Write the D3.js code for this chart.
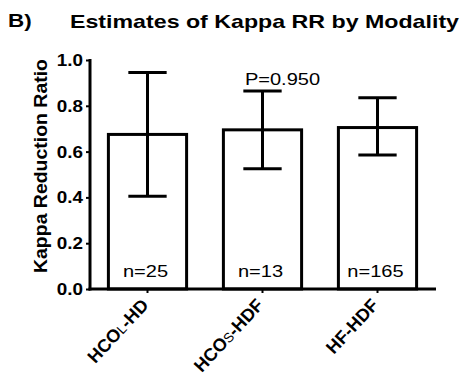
<!DOCTYPE html>
<html><head><meta charset="utf-8">
<script src="https://cdn.jsdelivr.net/npm/d3@7"></script>
<style>
html,body{margin:0;padding:0;background:#fff;}
svg{display:block;font-family:"Liberation Sans",Arial,sans-serif;}
</style></head>
<body>
<svg id="chart" width="464" height="381"></svg>
<script>
const categories = ["HCOL-HD", "HCOS-HDF", "HF-HDF"];
const labelMain = ["HCO", "HCO", "HF-HDF"];
const labelSub = ["L", "S", ""];
const labelRest = ["-HD", "-HDF", ""];
const means = [0.675, 0.695, 0.705];
const lower = [0.405, 0.525, 0.585];
const upper = [0.945, 0.865, 0.835];
const nLabels = ["n=25", "n=13", "n=165"];
const yTicks = [0.0, 0.2, 0.4, 0.6, 0.8, 1.0];
const pLabel = "P=0.950";
const title = "Estimates of Kappa RR by Modality";
const panel = "B)";
const yTitle = "Kappa Reduction Ratio";

const svg = d3.select("#chart");
const sx = 1.18;
const x = d3.scaleBand().domain(categories).range([90, 435]).paddingInner(0.32).paddingOuter(0.16);
const y = d3.scaleLinear().domain([0, 1]).range([289, 60]);

// horizontally stretched text helper
function stext(g, tx, ty, str, size, weight, anchor, rot) {
  const gg = g.append("g").attr("transform", `translate(${tx},${ty}) rotate(${rot||0}) scale(${sx},1)`);
  return gg.append("text").attr("font-size", size).attr("font-weight", weight)
    .attr("text-anchor", anchor).attr("fill", "#000").text(str);
}

stext(svg, 8, 27, panel, 19, "bold", "start");
svg.append("text").attr("x", 70).attr("y", 28).attr("font-size", 19).attr("font-weight", "bold")
  .attr("textLength", 389).attr("lengthAdjust", "spacingAndGlyphs").text(title);

// y axis title
svg.append("g").attr("transform", "translate(47,166) rotate(-90)")
  .append("text").attr("text-anchor", "middle").attr("font-size", 17.5).attr("font-weight", "bold")
  .attr("textLength", 214).attr("lengthAdjust", "spacingAndGlyphs").text(yTitle);

// bars
svg.selectAll("rect.bar").data(categories).join("rect")
  .attr("x", d => x(d)).attr("width", x.bandwidth())
  .attr("y", (d,i) => y(means[i])).attr("height", (d,i) => y(0) - y(means[i]))
  .attr("fill", "#fff").attr("stroke", "#000").attr("stroke-width", 3);

// error bars
const capW = x.bandwidth() * 0.49;
categories.forEach((c, i) => {
  const cx = x(c) + x.bandwidth() / 2;
  svg.append("line").attr("x1", cx).attr("x2", cx).attr("y1", y(lower[i])).attr("y2", y(upper[i]))
    .attr("stroke", "#000").attr("stroke-width", 3);
  [lower[i], upper[i]].forEach(v => {
    svg.append("line").attr("x1", cx - capW/2).attr("x2", cx + capW/2).attr("y1", y(v)).attr("y2", y(v))
      .attr("stroke", "#000").attr("stroke-width", 3);
  });
  stext(svg, cx - 2, 277, nLabels[i], 17, "normal", "middle");
});

// P label
const c2 = x(categories[1]) + x.bandwidth() / 2;
stext(svg, c2 + 20, 85, pLabel, 17, "normal", "middle");

// y axis
const yAxis = svg.append("g").attr("transform", "translate(90,0)")
  .call(d3.axisLeft(y).tickValues(yTicks).tickFormat(d3.format(".1f")).tickSize(4).tickPadding(3));
yAxis.select(".domain").attr("stroke", "#000").attr("stroke-width", 3).attr("d", `M0,${y(1)-1}V${y(0)+1.5}`);
yAxis.selectAll(".tick line").attr("stroke", "#000").attr("stroke-width", 2);
yAxis.selectAll(".tick text").remove();
yTicks.forEach(t => {
  stext(svg, 83, y(t) + 6, d3.format(".1f")(t), 16, "bold", "end");
});

// x axis
const xAxis = svg.append("g").attr("transform", `translate(0,${y(0)})`)
  .call(d3.axisBottom(x).tickSize(4).tickSizeOuter(0).tickFormat(""));
xAxis.select(".domain").attr("stroke", "#000").attr("stroke-width", 3).attr("d", "M88.5,0H436");
xAxis.selectAll(".tick line").attr("stroke", "#000").attr("stroke-width", 2);

// x labels rotated
categories.forEach((c, i) => {
  const cx = x(c) + x.bandwidth() / 2;
  const g = svg.append("g").attr("transform", `translate(${cx + 2},${y(0) + 17}) rotate(-47)`);
  const t = g.append("text").attr("text-anchor", "end").attr("font-size", 18).attr("fill", "#000");
  t.append("tspan").attr("font-weight", "bold").text(labelMain[i]);
  if (labelSub[i]) {
    t.append("tspan").attr("font-weight", "normal").attr("font-size", 13.5).text(labelSub[i]);
    t.append("tspan").attr("font-weight", "bold").text(labelRest[i]);
  }
});
</script>
</body></html>
